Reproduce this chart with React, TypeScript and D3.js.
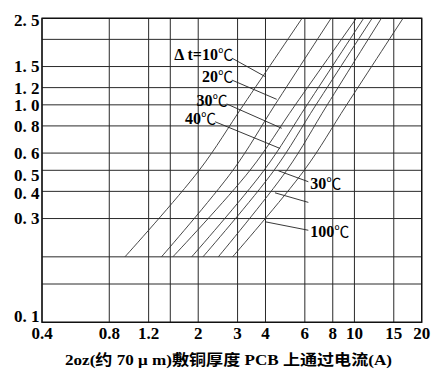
import React, { useEffect, useRef } from "react";
import * as d3 from "d3";

// gridlines and tick labels
const xGrid = [0.4, 0.8, 1.2, 1.5, 2, 3, 4, 6, 8, 10, 15, 20];
const xTicks = [0.4, 0.8, 1.2, 2, 3, 4, 6, 8, 10, 15, 20];
const yGrid = [0.1, 0.15, 0.2, 0.3, 0.4, 0.5, 0.6, 0.8, 1.0, 1.2, 1.5, 2.0, 2.5];
const yTicks = [0.1, 0.3, 0.4, 0.5, 0.6, 0.8, 1.0, 1.2, 1.5, 2.5];

// widths read on each curve, and the current (A) of every curve at those widths
const widths = [0.2, 0.5, 1.0, 2.5];
const dt10 = [0.94, 2.02, 3.19, 5.83];
const dt20 = [1.37, 2.86, 4.41, 7.86];
const dt30 = [1.54, 3.41, 5.44, 10.2];
const dt40 = [1.87, 3.94, 6.14, 11.0];
const dt50 = [2.1, 4.37, 6.73, 12.0];
const dt60 = [2.46, 4.98, 7.56, 13.2];
const dt100 = [2.85, 5.96, 9.23, 16.5];
const curves = [dt10, dt20, dt30, dt40, dt50, dt60, dt100];

// leader lines: [current, width] of both ends, label text
const notes = [
  { text: "Δ t=10", from: [2.83, 1.64], to: [3.98, 1.35], side: "left" },
  { text: "20", from: [2.83, 1.3], to: [4.49, 1.06], side: "left" },
  { text: "30", from: [2.68, 1.01], to: [4.73, 0.78], side: "left" },
  { text: "40", from: [2.38, 0.836], to: [4.65, 0.63], side: "left" },
  { text: "30", from: [4.57, 0.4975], to: [6.22, 0.443], side: "right" },
  { text: "", from: [4.41, 0.394], to: [6.22, 0.356], side: "right" },
  { text: "100", from: [3.98, 0.29], to: [6.22, 0.265], side: "right" },
];

const yLabelShift: Record<string, number> = { "2.5": 1.5, "0.5": 4.5, "0.4": 1.5, "0.1": -6.5 };

const FONT = "'Liberation Serif', 'Noto Sans CJK SC', serif";

export default function App() {
  const ref = useRef<SVGSVGElement>(null);

  useEffect(() => {
    const svg = d3.select(ref.current);
    svg.selectAll("*").remove();

    const x = d3.scaleLog().domain([0.4, 20]).range([42, 421.7]);
    const y = d3.scaleLog().domain([0.1, 2.5]).range([322.3, 18.3]);

    svg.append("rect").attr("width", 436).attr("height", 374).attr("fill", "#fff");

    // grid
    const grid = svg.append("g").attr("stroke", "#2a2a2a").attr("stroke-width", 1);
    grid.selectAll("line.v")
      .data(xGrid)
      .enter()
      .append("line")
      .attr("x1", (d) => x(d)).attr("x2", (d) => x(d))
      .attr("y1", y(0.1)).attr("y2", y(2.5));
    grid.selectAll("line.h")
      .data(yGrid)
      .enter()
      .append("line")
      .attr("x1", x(0.4)).attr("x2", x(20))
      .attr("y1", (d) => y(d)).attr("y2", (d) => y(d));

    // frame
    svg.append("rect")
      .attr("x", x(0.4)).attr("y", y(2.5))
      .attr("width", x(20) - x(0.4)).attr("height", y(0.1) - y(2.5))
      .attr("fill", "none").attr("stroke", "#111").attr("stroke-width", 1.4);

    // curves
    const line = d3.line<number>()
      .x((d) => x(d))
      .y((d, i) => y(widths[i]))
      .curve(d3.curveCatmullRom.alpha(0.5));
    svg.append("g")
      .selectAll("path")
      .data(curves)
      .enter()
      .append("path")
      .attr("d", (d) => line(d))
      .attr("fill", "none")
      .attr("stroke", "#333")
      .attr("stroke-width", 0.9);

    // leader lines + labels
    const g = svg.append("g");
    notes.forEach((n) => {
      g.append("line")
        .attr("x1", x(n.from[0])).attr("y1", y(n.from[1]))
        .attr("x2", x(n.to[0])).attr("y2", y(n.to[1]))
        .attr("stroke", "#222").attr("stroke-width", 0.9);
      if (!n.text) return;
      const left = n.side === "left";
      const t = g.append("text")
        .attr("x", left ? x(n.from[0]) + 1 : x(n.to[0]) + 2)
        .attr("y", left ? y(n.from[1]) + 2 : y(n.to[1]) + 7)
        .attr("text-anchor", left ? "end" : "start")
        .style("font-family", FONT)
        .style("font-weight", "bold")
        .style("font-size", "16px");
      t.append("tspan").text(n.text);
      t.append("tspan")
        .style("font-family", "'Noto Sans CJK SC'")
        .style("font-weight", "normal")
        .style("font-size", "15px")
        .text("℃");
    });

    // y tick labels
    svg.append("g")
      .selectAll("text")
      .data(yTicks)
      .enter()
      .append("text")
      .attr("x", 39.5)
      .attr("y", (d) => y(d) + (yLabelShift[d.toFixed(1)] || 0))
      .attr("dy", "0.35em")
      .attr("text-anchor", "end")
      .style("font-family", FONT)
      .style("font-weight", "bold")
      .style("font-size", "17px")
      .text((d) => d.toFixed(1).replace(".", ". "));

    // x tick labels
    svg.append("g")
      .selectAll("text")
      .data(xTicks)
      .enter()
      .append("text")
      .attr("x", (d) => x(d))
      .attr("y", 338.5)
      .attr("text-anchor", "middle")
      .style("font-family", FONT)
      .style("font-weight", "bold")
      .style("font-size", "17px")
      .text((d) => String(d));

    // x title
    svg.append("text")
      .attr("x", 65)
      .attr("y", 365)
      .attr("textLength", 327)
      .attr("lengthAdjust", "spacingAndGlyphs")
      .style("font-family", FONT)
      .style("font-weight", "bold")
      .style("font-size", "15px")
      .text("2oz(约 70 μ m)敷铜厚度 PCB 上通过电流(A)");
  }, []);

  return (
    <div>
      <svg ref={ref} width={436} height={374} style={{ position: "absolute", left: 0, top: 0 }}></svg>
    </div>
  );
}
